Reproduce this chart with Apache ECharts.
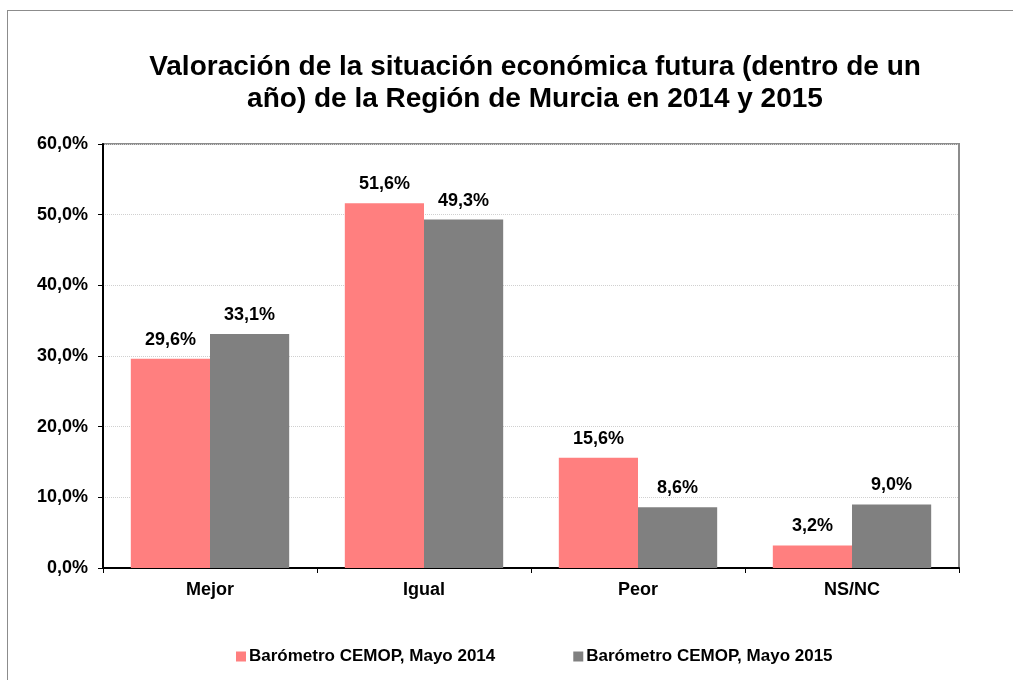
<!DOCTYPE html>
<html lang="es">
<head>
    <meta charset="UTF-8">
    <title>Valoración de la situación económica futura</title>
    <script src="https://cdn.jsdelivr.net/npm/echarts@6/dist/echarts.min.js"></script>
    <style>
        html, body { margin: 0; padding: 0; background: #fff; }
        .frame {
            position: absolute; left: 7px; top: 10px; right: 0; bottom: 0;
            border-left: 1px solid #8c8c8c; border-top: 1px solid #8c8c8c;
        }
        #main { position: absolute; left: 0; top: 0; width: 1013px; height: 680px; }
    </style>
</head>
<body>
    <div class="frame"></div>
    <div id="main"></div>
    <script>
        // datos
        var categorias = ['Mejor', 'Igual', 'Peor', 'NS/NC'];
        var mayo2014 = [29.6, 51.6, 15.6, 3.2];
        var mayo2015 = [33.1, 49.3, 8.6, 9.0];
        var nombres = ['Barómetro CEMOP, Mayo 2014', 'Barómetro CEMOP, Mayo 2015'];

        function pct(v) {
            return v.toFixed(1).replace('.', ',') + '%';
        }

        var myChart = echarts.init(document.getElementById('main'));
        var font = 'Liberation Sans, Arial, sans-serif';

        var option = {
            textStyle: { fontFamily: font },
            title: {
                text: 'Valoración de la situación económica futura (dentro de un\naño) de la Región de Murcia en 2014 y 2015',
                left: 530,
                textAlign: 'center',
                top: 46,
                textStyle: {
                    fontFamily: font, fontSize: 28, fontWeight: 'bold',
                    color: '#000', lineHeight: 32
                }
            },
            legend: {
                data: nombres,
                top: 643,
                left: 231,
                itemWidth: 10,
                itemHeight: 10,
                itemGap: 78,
                icon: 'rect',
                textStyle: { fontFamily: font, fontSize: 17, fontWeight: 'bold', color: '#000', padding: [0, 0, 0, -2] }
            },
            grid: {
                left: 103, right: 54, top: 144, bottom: 112,
                show: true, borderColor: '#8c8c8c', borderWidth: 2
            },
            xAxis: {
                type: 'category',
                data: categorias,
                axisLine: { lineStyle: { color: '#000', width: 2 } },
                axisTick: { show: true, length: 5, lineStyle: { color: '#000' } },
                axisLabel: { fontFamily: font, fontSize: 18, fontWeight: 'bold', color: '#000', margin: 13 }
            },
            yAxis: {
                type: 'value',
                min: 0, max: 60, interval: 10,
                axisLine: { show: true, lineStyle: { color: '#000', width: 2 } },
                axisTick: { show: true, length: 5, lineStyle: { color: '#000' } },
                axisLabel: { fontFamily: font, fontSize: 18, fontWeight: 'bold', color: '#000', margin: 15, formatter: pct },
                splitLine: { lineStyle: { color: '#d0d0d0', type: 'dotted' } }
            },
            series: [
                {
                    name: nombres[0], type: 'bar', data: mayo2014,
                    barGap: '0%', barCategoryGap: '26%',
                    itemStyle: { color: '#ff7f7f' },
                    label: {
                        show: true, position: 'top', distance: 10,
                        fontFamily: font, fontSize: 18, fontWeight: 'bold', color: '#000',
                        formatter: function (p) { return pct(p.value); }
                    }
                },
                {
                    name: nombres[1], type: 'bar', data: mayo2015,
                    itemStyle: { color: '#808080' },
                    label: {
                        show: true, position: 'top', distance: 10,
                        fontFamily: font, fontSize: 18, fontWeight: 'bold', color: '#000',
                        formatter: function (p) { return pct(p.value); }
                    }
                }
            ]
        };
        myChart.setOption(option);
    </script>
</body>
</html>
